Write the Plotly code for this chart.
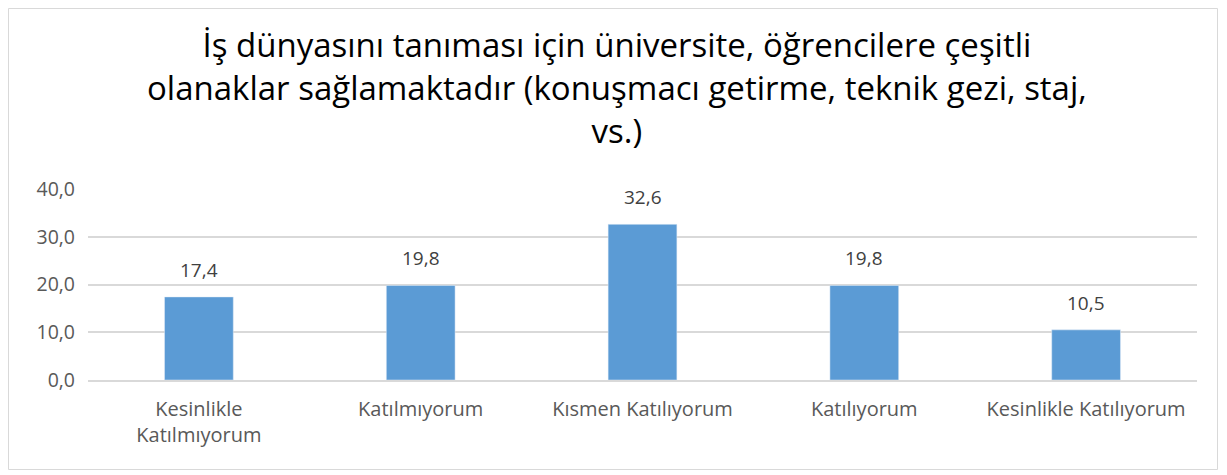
import plotly.graph_objects as go

categories = ["Kesinlikle<br>Katılmıyorum", "Katılmıyorum", "Kısmen Katılıyorum", "Katılıyorum", "Kesinlikle Katılıyorum"]
values = [17.4, 19.8, 32.6, 19.8, 10.5]
y_ticks = [0, 10, 20, 30, 40]
title_text = "İş dünyasını tanıması için üniversite, öğrencilere çeşitli<br>olanaklar sağlamaktadır (konuşmacı getirme, teknik gezi, staj,<br>vs.)"

# page body has an 8px default margin; figure sized/offset to compensate
W, H = 1219, 467
L, R, T, B = 80, 30, 181, 95
PW, PH = W - L - R, H - T - B

fig = go.Figure(go.Bar(
    x=categories, y=values,
    marker_color="#5B9BD5",
    hoverinfo="x+y",
))

annotations = [
    dict(x=c, y=v, xref="x", yref="y", text=f"{v:.1f}".replace(".", ","),
         showarrow=False, yanchor="bottom", yshift=12,
         font=dict(size=19, color="#404040", family="Open Sans"))
    for c, v in zip(categories, values)
]
annotations.append(dict(
    x=(609 - L) / PW, y=(372 - 80) / PH, xref="paper", yref="paper",
    text=title_text, showarrow=False, xanchor="center", yanchor="middle",
    font=dict(size=33, color="#000000", family="Open Sans")))

fig.update_layout(
    width=W, height=H,
    margin=dict(l=L, r=R, t=T, b=B),
    paper_bgcolor="white", plot_bgcolor="white",
    font=dict(family="Open Sans", color="#595959"),
    separators=",.",
    bargap=0.69,
    showlegend=False,
    annotations=annotations,
    xaxis=dict(tickfont=dict(size=20, color="#595959"), showline=True, linecolor="#D9D9D9",
               linewidth=1.5, ticks="", ticklabelstandoff=10),
    yaxis=dict(range=[0, 40], tickvals=y_ticks, tickformat=".1f",
               tickfont=dict(size=19.5, color="#595959"),
               showgrid=True, gridcolor="#D9D9D9", gridwidth=1.5,
               zeroline=False, showline=False, ticks="", ticklabelstandoff=12),
    shapes=[dict(type="rect", xref="paper", yref="paper",
                 x0=(0.5 - L) / PW, x1=(1209.5 - L) / PW,
                 y0=(372 - 461.5) / PH, y1=(372 - 0.5) / PH,
                 line=dict(color="#D9D9D9", width=1), fillcolor="rgba(0,0,0,0)", layer="below")],
)

fig.write_html("out.html")
